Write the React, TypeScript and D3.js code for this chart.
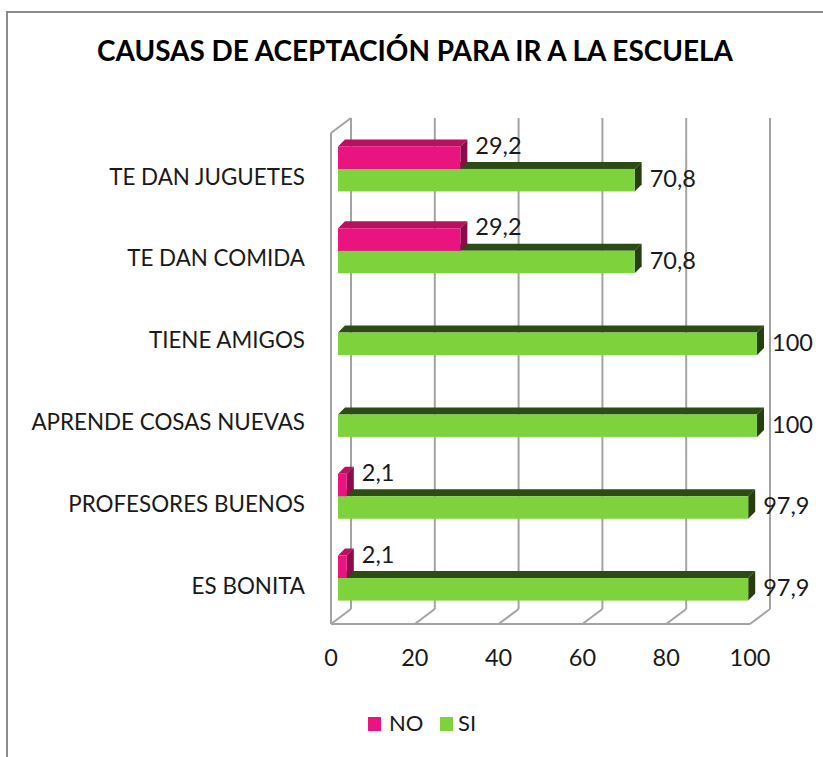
import React from "react";
import * as d3 from "d3";

// categories top to bottom
const categories = [
  "TE DAN JUGUETES",
  "TE DAN COMIDA",
  "TIENE AMIGOS",
  "APRENDE COSAS NUEVAS",
  "PROFESORES BUENOS",
  "ES BONITA",
];
const series = ["NO", "SI"];
const noValues: (number | null)[] = [29.2, 29.2, null, null, 2.1, 2.1];
const siValues: (number | null)[] = [70.8, 70.8, 100, 100, 97.9, 97.9];
const xTicks = [0, 20, 40, 60, 80, 100];

const colors: Record<string, { front: string; top: string; side: string }> = {
  NO: { front: "#ea1480", top: "#b8115f", side: "#8c0c4b" },
  SI: { front: "#7ed23c", top: "#2d4b14", side: "#273f10" },
};

const W = 823;
const H = 757;
const FONT = "Lato, 'Open Sans', sans-serif";

const App = () => {
  // front plane of the 3D box
  const x = d3.scaleLinear().domain([0, 100]).range([331, 750]);
  const y = d3.scaleBand().domain(categories).range([133, 624]).padding(0);
  const step = y.step();
  const ys = d3.scaleBand().domain(series).range([step * 0.225, step * 0.775]);
  const wall = { dx: 20, dy: -15 }; // box depth
  const barOff = { dx: 7, dy: -5 }; // bar front plane
  const depth = { dx: 7, dy: -7 }; // bar thickness
  const fmt = (v: number) => String(v).replace(".", ",");
  const [y0, y1] = y.range();
  const gridColor = "#a3a3a3";

  const values: Record<string, (number | null)[]> = { NO: noValues, SI: siValues };

  // draw bottom category first so upper bars overlap correctly
  const bars: any[] = [];
  for (let i = categories.length - 1; i >= 0; i--) {
    const c = categories[i];
    for (const s of ["SI", "NO"]) {
      const v = values[s][i];
      if (v == null) continue;
      const xa = x(0) + barOff.dx;
      const xb = x(v) + barOff.dx;
      const ya = (y(c) as number) + (ys(s) as number) + barOff.dy;
      const h = ys.bandwidth();
      bars.push({ c, s, v, xa, xb, ya, h });
    }
  }

  return (
    <svg
      width={W}
      height={H}
      style={{ position: "absolute", left: 0, top: 0, background: "#fff" }}
    >
      <rect x={7} y={12} width={900} height={900} fill="#fff" stroke="#8c8c8c" strokeWidth={2} />

      <text
        x={415}
        y={54}
        textAnchor="middle"
        dominantBaseline="middle"
        fontFamily={FONT}
        fontWeight="bold"
        fontSize={28}
        textLength={636}
        lengthAdjust="spacingAndGlyphs"
        fill="#000"
      >
        CAUSAS DE ACEPTACIÓN PARA IR A LA ESCUELA
      </text>

      {/* walls and gridlines */}
      <g stroke={gridColor} strokeWidth={2} fill="none">
        {xTicks.map((t) => (
          <g key={t}>
            <line x1={x(t) + wall.dx} x2={x(t) + wall.dx} y1={y0 + wall.dy} y2={y1 + wall.dy} />
            <line x1={x(t)} y1={y1} x2={x(t) + wall.dx} y2={y1 + wall.dy} />
          </g>
        ))}
        <line x1={x(0)} x2={x(100)} y1={y1} y2={y1} />
        <line x1={x(0)} x2={x(0)} y1={y0} y2={y1} />
        <line x1={x(0)} y1={y0} x2={x(0) + wall.dx} y2={y0 + wall.dy} />
      </g>

      {/* 3D bars */}
      {bars.map((b) => {
        const col = colors[b.s];
        const { xa, xb, ya, h } = b;
        const top = `${xa},${ya} ${xb},${ya} ${xb + depth.dx},${ya + depth.dy} ${xa + depth.dx},${ya + depth.dy}`;
        const side = `${xb},${ya} ${xb + depth.dx},${ya + depth.dy} ${xb + depth.dx},${ya + h + depth.dy} ${xb},${ya + h}`;
        return (
          <g key={b.c + b.s}>
            <polygon points={top} fill={col.top} />
            <polygon points={side} fill={col.side} />
            <rect x={xa} y={ya} width={xb - xa} height={h} fill={col.front} />
          </g>
        );
      })}

      {/* value labels */}
      {bars.map((b) => (
        <text
          key={"l" + b.c + b.s}
          x={b.xb + depth.dx + 8}
          y={b.ya + b.h / 2 + (b.s === "NO" ? -10 : 1)}
          dominantBaseline="middle"
          fontFamily={FONT}
          fontSize={23.5}
          fill="#1a1a1a"
        >
          {fmt(b.v)}
        </text>
      ))}

      {/* category labels */}
      {categories.map((c) => (
        <text
          key={c}
          x={305}
          y={(y(c) as number) + step / 2 + 5}
          textAnchor="end"
          dominantBaseline="middle"
          fontFamily={FONT}
          fontSize={22.4}
          fill="#1a1a1a"
        >
          {c}
        </text>
      ))}

      {/* x tick labels */}
      {xTicks.map((t) => (
        <text
          key={"t" + t}
          x={x(t)}
          y={660}
          textAnchor="middle"
          dominantBaseline="middle"
          fontFamily={FONT}
          fontSize={23.5}
          fill="#1a1a1a"
        >
          {t}
        </text>
      ))}

      {/* legend */}
      <rect x={368} y={717} width={13} height={14} fill={colors.NO.front} />
      <text x={389} y={725} dominantBaseline="middle" fontFamily={FONT} fontSize={22} fill="#1a1a1a">
        NO
      </text>
      <rect x={440} y={717} width={13} height={14} fill={colors.SI.front} />
      <text x={458} y={725} dominantBaseline="middle" fontFamily={FONT} fontSize={22} fill="#1a1a1a">
        SI
      </text>
    </svg>
  );
};

export default App;
